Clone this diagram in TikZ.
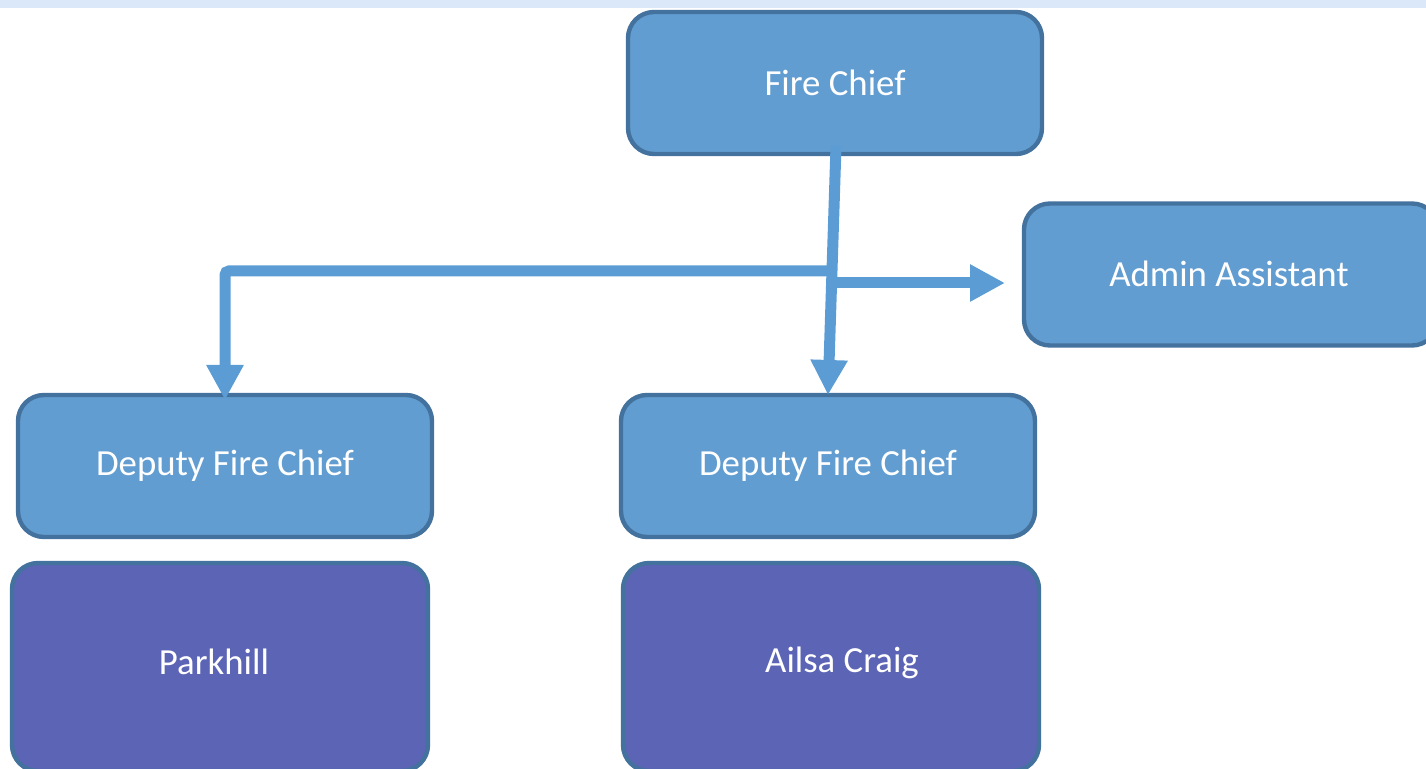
\documentclass[tikz,border=0pt]{standalone}
\usepackage{fontspec}
\setmainfont{Carlito}
\usetikzlibrary{arrows.meta,positioning,calc}
\definecolor{boxfill}{RGB}{98,157,209}
\definecolor{boxedge}{RGB}{68,114,158}
\definecolor{purplefill}{RGB}{92,100,181}
\definecolor{connblue}{RGB}{92,156,212}
\definecolor{bandblue}{RGB}{218,232,250}
\begin{document}
\begin{tikzpicture}[x=0.5pt,y=-0.5pt,
  orgbox/.style={draw=boxedge, line width=2.2pt, fill=boxfill, rounded corners=13pt,
    minimum width=207pt, minimum height=71pt, inner sep=0pt, outer sep=0pt,
    text=white, font=\fontsize{18.4}{22}\selectfont},
  sitebox/.style={orgbox, fill=purplefill, minimum width=208pt, minimum height=104pt},
  label/.style={text=white, font=\fontsize{18.4}{22}\selectfont},
  conn/.style={draw=connblue, line width=5.5pt,
    -{Triangle[length=17.5pt,width=17.5pt]}}]
\useasboundingbox (0,0) rectangle (1426,769);
\fill[bandblue] (0,0) rectangle (1426,8);
% boxes
\node[orgbox] (fc) at (835,83) {Fire Chief};
\node[orgbox] (aa) at (1231,274.5) {};
\node[label] (aat) at (1229,274) {Admin Assistant};
\node[orgbox] (d1) at (225,466) {\raisebox{-1pt}{Deputy Fire Chief}};
\node[orgbox] (d2) at (828,466) {\raisebox{-1pt}{Deputy Fire Chief}};
\node[sitebox] (p1) at (220,667) {};
\node[label] (p1t) at (214,662) {Parkhill};
\node[sitebox] (p2) at (831,667) {};
\node[label] (p2t) at (842,663) {Ailsa Craig};
% connectors
\coordinate (top) at (836,146);
\coordinate (jl) at (832,271);
\coordinate (jr) at (834,283);
\draw[conn, rounded corners=2pt] (jl) -| ([yshift=-2.5pt]d1.north);
\draw[conn, shorten >=9.5pt] (jr) -- (jr -| aa.west);
\draw[conn] (top) -- (d2.north);
\end{tikzpicture}
\end{document}
